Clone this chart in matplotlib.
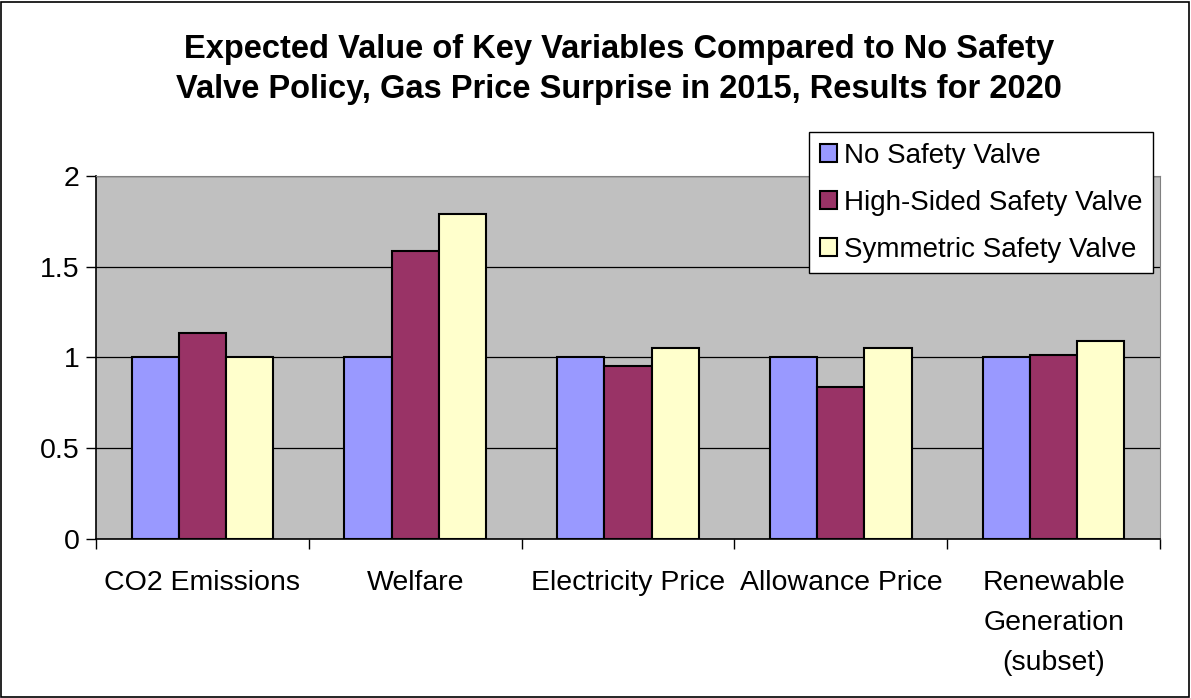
import matplotlib.pyplot as plt
import numpy as np

plt.rcParams['font.family'] = ['Liberation Sans', 'DejaVu Sans']

categories = ['CO2 Emissions', 'Welfare', 'Electricity Price', 'Allowance Price',
              'Renewable\nGeneration\n(subset)']
series_names = ['No Safety Valve', 'High-Sided Safety Valve', 'Symmetric Safety Valve']
no_valve = [1.0, 1.0, 1.0, 1.0, 1.0]
high_sided = [1.135, 1.585, 0.955, 0.835, 1.015]
symmetric = [1.0, 1.79, 1.05, 1.05, 1.09]
colors = ['#9999FF', '#993366', '#FFFFCC']

fig = plt.figure(figsize=(11.91, 6.98), dpi=100)
fig.patch.set_facecolor('white')
# outer border like the Excel chart area
fig.add_artist(plt.Rectangle((0.001, 0.002), 0.997, 0.995, transform=fig.transFigure,
                             fill=False, edgecolor='black', linewidth=1.2))

ax = fig.add_axes([0.0806, 0.2278, 0.8934, 0.5201])
ax.set_facecolor('#C0C0C0')

x = np.arange(len(categories))
w = 0.222
for i, (vals, name) in enumerate(zip([no_valve, high_sided, symmetric], series_names)):
    ax.bar(x + (i - 1) * w, vals, w, color=colors[i], edgecolor='black',
           linewidth=1.5, label=name, zorder=3)

ax.set_xlim(-0.5, len(categories) - 0.5)
ax.set_ylim(0, 2)
ax.set_yticks([0, 0.5, 1, 1.5, 2])
ax.set_yticklabels(['0', '0.5', '1', '1.5', '2'], fontsize=20.5)
ax.yaxis.grid(True, color='black', linewidth=0.9, zorder=1)
ax.set_axisbelow(True)

ax.set_xticks(x)
ax.set_xticklabels(categories, fontsize=20.5, linespacing=1.7, va='top')
ax.tick_params(axis='x', length=0, pad=22)
ax.set_xticks(np.arange(-0.5, len(categories)), minor=True)
ax.tick_params(axis='x', which='minor', length=7, width=1, color='black', direction='out')
ax.tick_params(axis='y', length=7, width=1, direction='out', pad=5)

for s in ['top', 'right']:
    ax.spines[s].set_color('#808080')
for s in ['left', 'bottom']:
    ax.spines[s].set_color('black')
    ax.spines[s].set_linewidth(1.2)

fig.text(0.52, 0.9, 'Expected Value of Key Variables Compared to No Safety\n'
         'Valve Policy, Gas Price Surprise in 2015, Results for 2020',
         ha='center', va='center', fontsize=23.5, fontweight='bold', linespacing=1.36)

leg = ax.legend(loc='upper right', bbox_to_anchor=(0.9934, 1.121), fontsize=20,
                frameon=True, fancybox=False, edgecolor='black', framealpha=1,
                handlelength=0.62, handleheight=0.62, handletextpad=0.25,
                labelspacing=0.76, borderpad=0.38, borderaxespad=0)
leg.get_frame().set_linewidth(1)
leg.set_zorder(5)

fig.savefig('out.png', dpi=100)
